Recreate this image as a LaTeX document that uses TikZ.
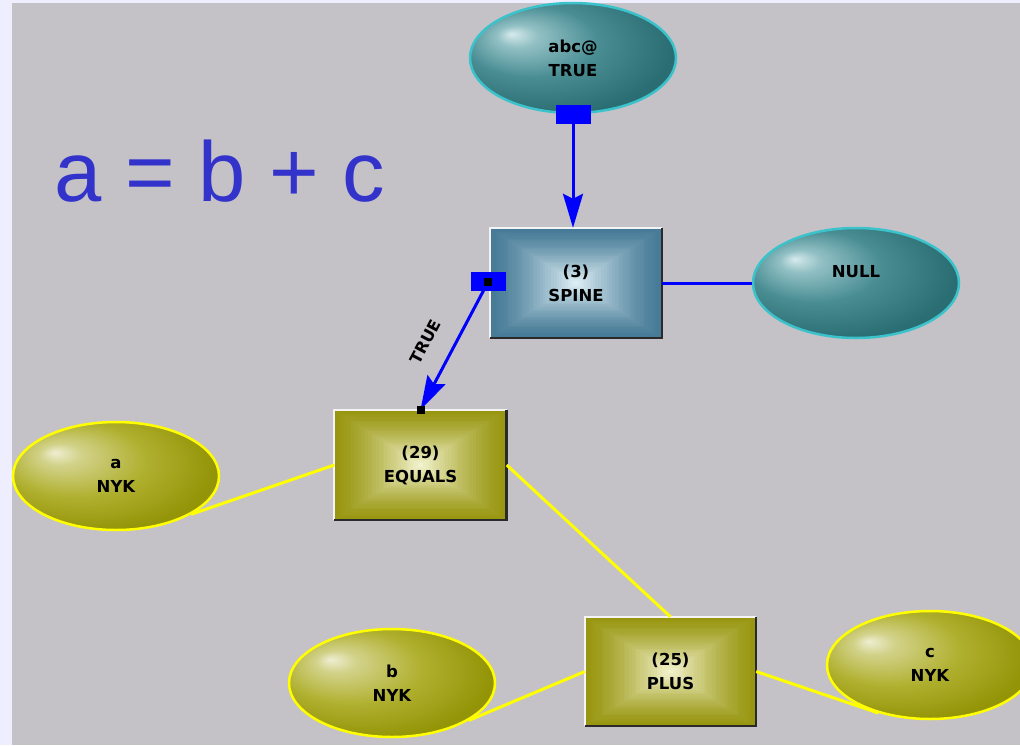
\documentclass[tikz,border=0pt]{standalone}
\usepackage{fontspec}
\setmainfont{DejaVu Sans}
\newfontfamily\lblfont{DejaVu Sans}
\newfontfamily\eqfont{Liberation Sans}
\usetikzlibrary{calc,arrows.meta,shapes.geometric}
\definecolor{lavbg}{HTML}{EEEEFF}
\definecolor{greybg}{HTML}{C4C2C7}
\definecolor{eqblue}{HTML}{3333CC}
\definecolor{portblue}{HTML}{0000FF}
\definecolor{yline}{HTML}{FFFF00}
\definecolor{tealbd}{HTML}{3CC2CA}
\definecolor{tealA}{HTML}{D6EAEC}
\definecolor{tealB}{HTML}{92C0C4}
\definecolor{tealC}{HTML}{4A8E94}
\definecolor{tealD}{HTML}{2A6E74}
\definecolor{oliveA}{HTML}{EEEED2}
\definecolor{oliveB}{HTML}{D2D28A}
\definecolor{oliveC}{HTML}{B0B030}
\definecolor{oliveD}{HTML}{949408}
\definecolor{tboxout}{HTML}{467A96}
\definecolor{tboxin}{HTML}{DCEEF4}
\definecolor{oboxout}{HTML}{989610}
\definecolor{oboxin}{HTML}{F2F2CC}
\definecolor{hiline}{HTML}{F4F4F4}
\definecolor{shline}{HTML}{2A2A2A}
\pgfdeclareradialshading{tealball}{\pgfpoint{-15bp}{11bp}}{color(0bp)=(tealA); color(5bp)=(tealB); color(16bp)=(tealC); color(30bp)=(tealD); color(50bp)=(tealD)}
\pgfdeclareradialshading{oliveball}{\pgfpoint{-15bp}{11bp}}{color(0bp)=(oliveA); color(5bp)=(oliveB); color(17bp)=(oliveC); color(30bp)=(oliveD); color(50bp)=(oliveD)}
\begin{document}
\begin{tikzpicture}[x=1pt,y=-1pt,
  lbl/.style={font=\lblfont\bfseries\fontsize{16.5}{24}\selectfont, align=center, text=black},
  tealell/.style={ellipse, minimum width=206pt, minimum height=110pt, inner sep=0pt, shading=tealball, draw=tealbd, line width=2.5pt, lbl},
  oliveell/.style={ellipse, minimum width=206pt, minimum height=108pt, inner sep=0pt, shading=oliveball, draw=yline, line width=2.5pt, lbl},
  bevel/.style 2 args={rectangle, inner sep=0pt, path picture={
    \foreach \i in {0,...,30}{
      \pgfmathsetmacro\f{1-\i/31}
      \pgfmathtruncatemacro\p{100*(\i/30)^1.3}
      \fill[#2!\p!#1] ($(path picture bounding box.center)!\f!(path picture bounding box.north east)$) rectangle ($(path picture bounding box.center)!\f!(path picture bounding box.south west)$);
    }}},
  tealbox/.style={bevel={tboxout}{tboxin}, minimum width=172pt, minimum height=110pt, lbl},
  olivebox/.style={bevel={oboxout}{oboxin}, minimum width=172pt, minimum height=110pt, lbl},
  hilite/.style={draw=hiline, line width=2pt},
  shadowln/.style={draw=shline, line width=2.5pt},
  portbox/.style={fill=portblue, minimum width=35pt, minimum height=19pt, inner sep=0pt},
  blackdot/.style={fill=black, minimum size=8pt, inner sep=0pt},
  bline/.style={draw=portblue, line width=3pt},
  ylink/.style={draw=yline, line width=3pt},
  bluearrow/.style={-{Stealth[length=34pt,width=20pt,inset=5pt]}},
  edgelbl/.style={font=\lblfont\bfseries\fontsize{16}{16}\selectfont, text=black, inner sep=2pt}
]
\useasboundingbox (0,0) rectangle (1020,745);
\clip (0,0) rectangle (1020,745);
\fill[lavbg] (0,0) rectangle (1020,745);
\fill[greybg] (12,3) rectangle (1020,745);

\node[anchor=base west, inner sep=0pt, text=eqblue, font=\eqfont\fontsize{85}{90}\selectfont] (formula) at (54,201) {a = b + c};

% nodes
\node[tealell] (abc) at (573,58) {abc@\\TRUE};
\node[tealbox] (SP) at (576,283) {(3)\\SPINE};
\node[tealell] (NULL) at (856,283) {NULL\\\mbox{}};
\node[olivebox] (EQ) at (420.5,465) {(29)\\EQUALS};
\node[oliveell] (a) at (116,476) {a\\NYK};
\node[olivebox, minimum width=171pt, minimum height=109pt] (PL) at (670.5,671.5) {(25)\\PLUS};
\node[oliveell] (b) at (392,683) {b\\NYK};
\node[oliveell] (c) at (930,665) {c\\NYK};

\foreach \n in {SP,EQ,PL}{
  \draw[hilite] (\n.south west) |- (\n.north east);
  \draw[shadowln] (\n.south west) -| (\n.north east);
}

% ports
\node[portbox] (abcport) at (abc.south) {};
\node[portbox] (spport) at ([xshift=-1.5pt,yshift=1.5pt]SP.west) {};

% connectors
\draw[bline, bluearrow] (abcport.south) -- (abcport.south |- SP.north);
\draw[bline] (SP.east) -- (NULL.west);
\draw[bline, bluearrow] (spport.center) -- node[pos=0.57, sloped, above=18pt, edgelbl] {TRUE} (EQ.north);
\draw[ylink] (EQ.west) -- (a.333);
\draw[ylink] (EQ.east) -- (PL.north);
\draw[ylink] (PL.west) -- (b.334);
\draw[ylink] (PL.east) -- (c.223);

% dots
\node[blackdot] (spdot) at (spport.center) {};
\node[blackdot] (eqdot) at (EQ.north) {};
\end{tikzpicture}
\end{document}
